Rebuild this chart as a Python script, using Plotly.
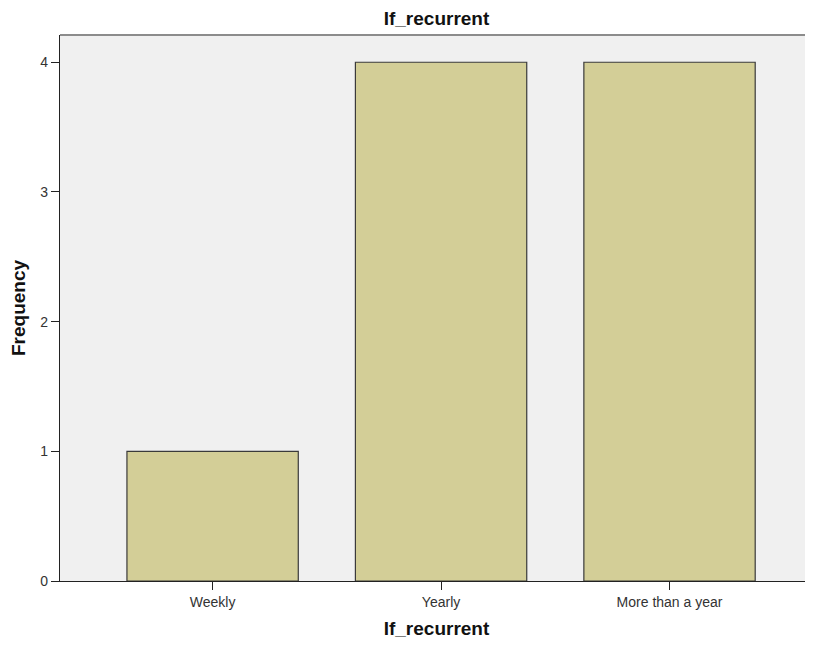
import plotly.graph_objects as go

categories = ["Weekly", "Yearly", "More than a year"]
frequencies = [1, 4, 4]
y_ticks = [0, 1, 2, 3, 4]

FONT = "Arial, Liberation Sans, sans-serif"
W, H = 805, 632  # page body adds an 8px margin

fig = go.Figure(
    go.Bar(
        x=categories,
        y=frequencies,
        width=0.75,
        marker=dict(color="#d3ce97", line=dict(color="#3a3a3a", width=1.2)),
    )
)

fig.update_layout(
    width=W,
    height=H,
    margin=dict(l=52, r=0, t=27, b=59),
    paper_bgcolor="white",
    plot_bgcolor="#f0f0f0",
    showlegend=False,
    title=dict(
        text="<b>If_recurrent</b>",
        x=0.5,
        xref="paper",
        yref="container",
        y=1 - 10 / H,
        yanchor="middle",
        font=dict(family=FONT, size=19, color="#111111"),
    ),
    font=dict(family=FONT, color="#333333"),
)

fig.update_xaxes(
    range=[-0.668, 2.628],
    showgrid=False,
    showline=True,
    linecolor="#222222",
    linewidth=1.2,
    ticks="outside",
    ticklen=8,
    tickcolor="#222222",
    tickfont=dict(family=FONT, size=14, color="#333333"),
    title=dict(text="<b>If_recurrent</b>", font=dict(family=FONT, size=19, color="#111111"), standoff=12),
)

fig.update_yaxes(
    range=[0, 4.21],
    tickvals=y_ticks,
    showgrid=False,
    zeroline=False,
    showline=True,
    linecolor="#222222",
    linewidth=1.2,
    ticks="outside",
    ticklen=8,
    tickcolor="#222222",
    tickfont=dict(family=FONT, size=14, color="#333333"),
    title=dict(text="<b>Frequency</b>", font=dict(family=FONT, size=19, color="#111111"), standoff=10),
)

fig.add_shape(
    type="line", xref="paper", yref="paper",
    x0=0, x1=1, y0=1, y1=1,
    line=dict(color="#8c8c8c", width=2),
)

fig.write_html("out.html")
